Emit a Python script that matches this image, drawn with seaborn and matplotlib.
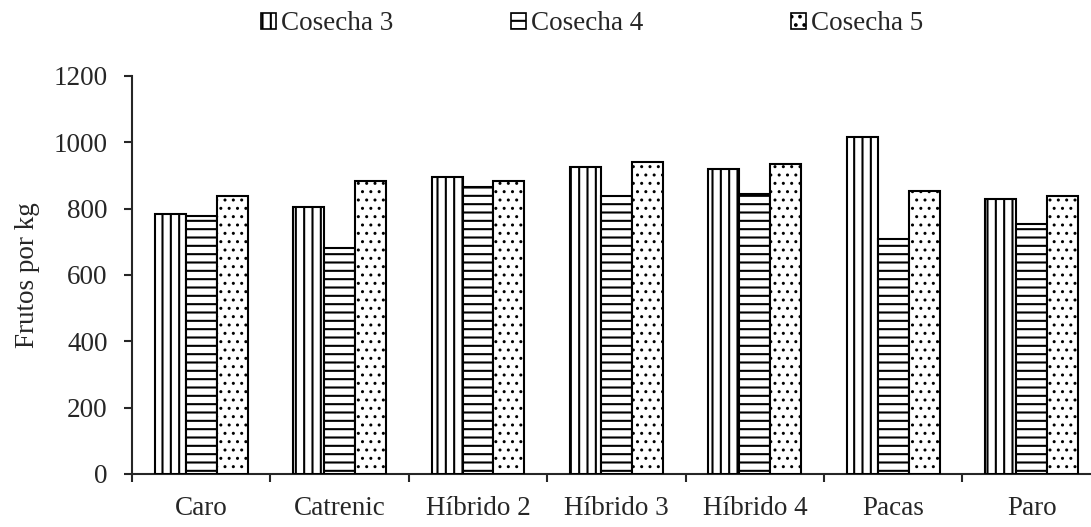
import numpy as np
import pandas as pd
import matplotlib
matplotlib.use("Agg")
import matplotlib.pyplot as plt
from matplotlib.patches import Patch
import seaborn as sns

variedades = ["Caro", "Catrenic", "Híbrido 2", "Híbrido 3", "Híbrido 4", "Pacas", "Paro"]
series = ["Cosecha 3", "Cosecha 4", "Cosecha 5"]
cosecha3 = [784, 804, 895, 925, 920, 1015, 829]
cosecha4 = [779, 682, 864, 839, 844, 708, 754]
cosecha5 = [839, 884, 884, 940, 935, 854, 839]
hatches = ["||", "--", ".."]

df = pd.DataFrame({
    "variedad": variedades * 3,
    "serie": [s for s in series for _ in variedades],
    "valor": cosecha3 + cosecha4 + cosecha5,
})

sns.set_style("ticks")
plt.rcParams["font.family"] = ["Liberation Serif", "DejaVu Serif"]
plt.rcParams["hatch.linewidth"] = 1.5
plt.rcParams["hatch.color"] = "black"
fs = 19.5

fig = plt.figure(figsize=(10.91, 5.27), dpi=100)
ax = fig.add_axes([0.121, 0.1006, 0.888, 0.7552])

sns.barplot(data=df, x="variedad", y="valor", hue="serie", order=variedades,
            hue_order=series, palette=["white"] * 3, edgecolor="black",
            linewidth=1.5, width=0.67, gap=0, legend=False, ax=ax, zorder=3)

for cont, h in zip(ax.containers, hatches):
    for p in cont:
        p.set_hatch(h)
        if h == ".." and hasattr(p, "set_hatch_linewidth"):
            p.set_hatch_linewidth(1.0)

ax.set_ylim(0, 1200)
ax.set_yticks(np.arange(0, 1201, 200))
ax.set_xlim(-0.5, len(variedades) - 0.5)
ax.set_xticks(np.arange(-0.5, len(variedades)), minor=True)
ax.tick_params(axis="x", which="major", length=0, pad=16, labelsize=fs)
ax.tick_params(axis="x", which="minor", length=5.5, width=1.5, direction="out")
ax.tick_params(axis="y", length=5.5, width=1.5, direction="out", labelsize=fs, pad=12)
ax.set_xlabel("")
ax.set_ylabel("Frutos por kg", fontsize=fs)
ax.yaxis.set_label_coords(-0.095, 0.5)
for s in ["top", "right"]:
    ax.spines[s].set_visible(False)
for s in ["left", "bottom"]:
    ax.spines[s].set_linewidth(1.5)

# one legend per entry, Excel-like uneven spacing
leg_x = [261, 511, 791]
for xpix, h, lab in zip(leg_x, hatches, series):
    hd = Patch(facecolor="white", edgecolor="black", hatch=h, linewidth=1.2)
    if h == ".." and hasattr(hd, "set_hatch_linewidth"):
        hd.set_hatch_linewidth(1.0)
    fig.legend([hd], [lab], loc="center left", bbox_to_anchor=(xpix / 1091, 1 - 24 / 527),
               frameon=False, fontsize=fs, handlelength=0.55, handleheight=0.55,
               handletextpad=0.2, borderpad=0, borderaxespad=0)

fig.savefig("out.png", dpi=100)
